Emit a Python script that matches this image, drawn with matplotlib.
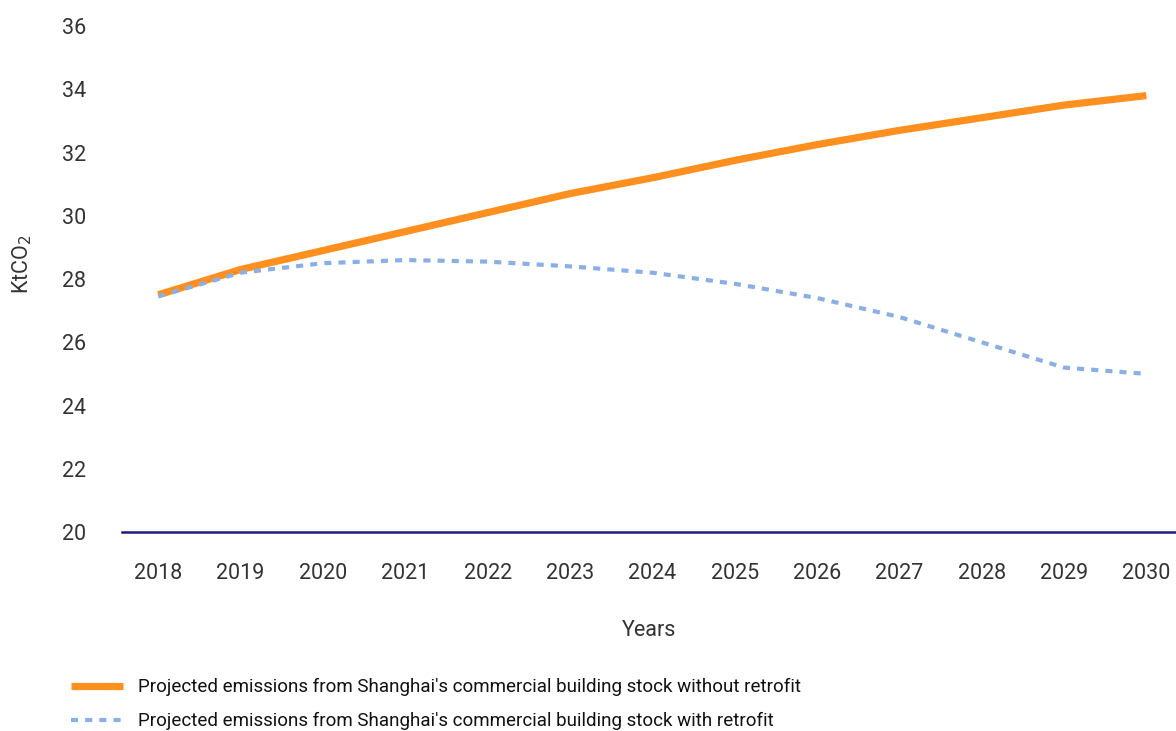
import matplotlib
matplotlib.use("Agg")
import matplotlib.pyplot as plt

# values (KtCO2)
years = [2018, 2019, 2020, 2021, 2022, 2023, 2024, 2025, 2026, 2027, 2028, 2029, 2030]
no_retrofit = [27.5, 28.3, 28.9, 29.5, 30.1, 30.7, 31.2, 31.75, 32.25, 32.7, 33.1, 33.5, 33.8]
with_retrofit = [27.45, 28.2, 28.5, 28.6, 28.55, 28.4, 28.2, 27.85, 27.4, 26.8, 26.0, 25.2, 25.0]
yticks = [20, 22, 24, 26, 28, 30, 32, 34, 36]

label_a = "Projected emissions from Shanghai's commercial building stock without retrofit"
label_b = "Projected emissions from Shanghai's commercial building stock with retrofit"

plt.rcParams["font.family"] = ["Roboto", "DejaVu Sans"]
txt = "#333333"

fig = plt.figure(figsize=(11.76, 7.31), dpi=100)
ax = fig.add_axes([0.1037, 0.2722, 0.8963, 0.6922])

l1, = ax.plot(years, no_retrofit, color="#FF9020", lw=5.2, solid_capstyle="butt", label=label_a)
l2, = ax.plot(years, with_retrofit, color="#8AAEE6", lw=3, linestyle=(0, (1.7, 1.7)),
              dash_capstyle="butt", label=label_b)

ax.set_xlim(2017.56, 2030.36)
ax.set_ylim(20, 36)
ax.set_xticks(years)
ax.set_yticks(yticks)
ax.tick_params(axis="both", length=0, labelsize=15.5, colors=txt)
ax.tick_params(axis="x", pad=22)
ax.tick_params(axis="y", pad=26)

for s in ["top", "right", "left"]:
    ax.spines[s].set_visible(False)
ax.spines["bottom"].set_color("#1c1c7a")
ax.spines["bottom"].set_linewidth(1.8)

ax.set_xlabel("Years", fontsize=15.5, color=txt, labelpad=26)
fig.text(0.019, 0.638, "KtCO$_2$", rotation=90, fontsize=15.5, color=txt,
         ha="center", va="center")

fig.legend(handles=[l1, l2], loc="lower left", bbox_to_anchor=(0.046, -0.022),
           frameon=False, fontsize=13.5, handlelength=2.8, handletextpad=0.75,
           labelspacing=0.85, labelcolor="#111111")

fig.savefig("out.png", dpi=100)
